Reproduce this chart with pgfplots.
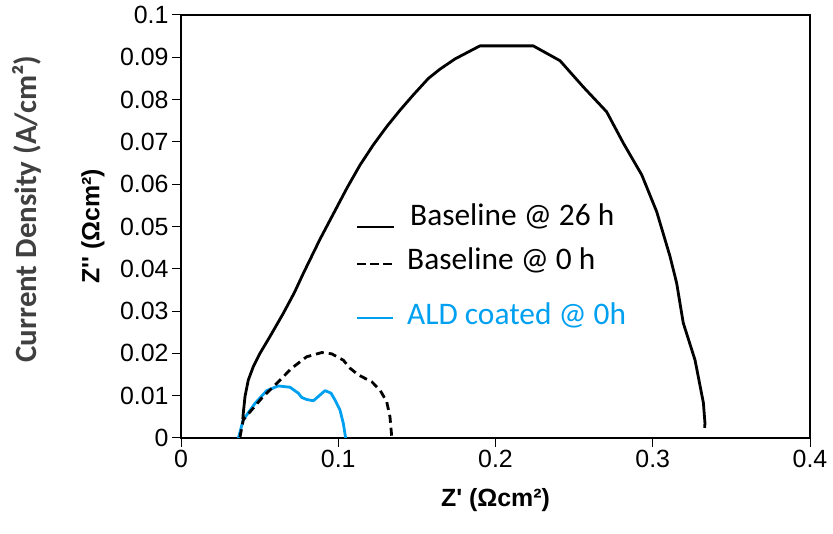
\documentclass[border=0pt]{standalone}
\usepackage{pgfplots}
\pgfplotsset{compat=1.18}
\usepackage{fontspec}
\setmainfont{Liberation Sans}[Ligatures=TeXOff]
\newfontfamily\calibri{Carlito}
\definecolor{aldblue}{RGB}{0,160,240}
\definecolor{dgray}{RGB}{64,64,64}
\begin{document}
\begin{tikzpicture}[x=1bp,y=1bp]
\begin{axis}[
  at={(181bp,96bp)}, anchor=south west,
  width=629bp, height=423bp, scale only axis,
  xmin=0, xmax=0.4, ymin=0, ymax=0.1,
  xtick={0,0.1,0.2,0.3,0.4},
  ytick={0,0.01,0.02,0.03,0.04,0.05,0.06,0.07,0.08,0.09,0.1},
  scaled ticks=false,
  tick align=outside, xtick pos=bottom, ytick pos=left,
  major tick length=9bp,
  tick style={black, line width=1bp},
  axis line style={black, line width=1.5bp},
  /pgf/number format/assume math mode=true,
  /pgf/number format/fixed,
  /pgf/number format/precision=2,
  ticklabel style={font=\fontsize{25}{30}\selectfont},
  xlabel={Z' (Ωcm²)}, ylabel={Z'' (Ωcm²)},
  label style={font=\fontsize{25}{30}\selectfont\bfseries},
  xlabel style={at={(axis description cs:0.5,-0.1466)},anchor=center},
  ylabel style={at={(axis description cs:-0.14,0.5)},anchor=center},
]
\addplot[aldblue, line width=2.8bp, line join=round] coordinates {
(0.0365,0.0000) (0.0396,0.0043) (0.0471,0.0082) (0.0545,0.0112) (0.0619,0.0123)
(0.0693,0.0120) (0.0746,0.0106) (0.0767,0.0096) (0.0799,0.0091) (0.0842,0.0088)
(0.0873,0.0098) (0.0916,0.0112) (0.0954,0.0106) (0.0979,0.0090) (0.1011,0.0066)
(0.1032,0.0035) (0.1047,0.0000)
};
\addplot[black, line width=2.8bp, line join=round, dash pattern=on 8bp off 5bp] coordinates {
(0.0375,0.0002) (0.0396,0.0043) (0.0513,0.0094) (0.0619,0.0133) (0.0704,0.0165)
(0.0799,0.0192) (0.0895,0.0202) (0.0958,0.0199) (0.1032,0.0184) (0.1075,0.0165)
(0.1128,0.0149) (0.1213,0.0133) (0.1266,0.0113) (0.1308,0.0086) (0.1329,0.0050)
(0.1340,0.0003)
};
\addplot[black, line width=2.8bp, line join=round] coordinates {
(0.0393,0.0045) (0.0396,0.0058) (0.0407,0.0098) (0.0428,0.0137) (0.0460,0.0169)
(0.0502,0.0200) (0.0566,0.0240) (0.0651,0.0295) (0.0720,0.0343) (0.0779,0.0390)
(0.0884,0.0470) (0.0969,0.0530) (0.1054,0.0590) (0.1138,0.0645) (0.1223,0.0693)
(0.1308,0.0736) (0.1393,0.0775) (0.1477,0.0811) (0.1573,0.0850) (0.1647,0.0872)
(0.1742,0.0896) (0.1901,0.0927) (0.2240,0.0927)
(0.2410,0.0892) (0.2558,0.0830) (0.2707,0.0771) (0.2813,0.0697) (0.2930,0.0622)
(0.3025,0.0535) (0.3110,0.0429) (0.3152,0.0366) (0.3194,0.0272) (0.3269,0.0184)
(0.3322,0.0083) (0.3332,0.0035) (0.3330,0.0024)
};
\end{axis}
\draw[black, line width=2.8bp] (357,307) -- (394,307);
\draw[black, line width=2.8bp, dash pattern=on 9bp off 4bp] (357,270) -- (392,270);
\draw[aldblue, line width=2.8bp] (357,216) -- (393,216);
\node[anchor=base west, inner sep=0, font=\calibri\fontsize{31.5}{36}\selectfont] at (410,308) {Baseline @ 26 h};
\node[anchor=base west, inner sep=0, font=\calibri\fontsize{31.5}{36}\selectfont] at (407,264) {Baseline @ 0 h};
\node[anchor=base west, inner sep=0, text=aldblue, font=\calibri\fontsize{31.5}{36}\selectfont] at (407,209) {ALD coated @ 0h};
\node[rotate=90, inner sep=0, text=dgray, font=\calibri\bfseries\fontsize{31}{36}\selectfont] at (27,325) {Current Density (A/cm²)};
\pgfresetboundingbox
\path[use as bounding box] (0,0) rectangle (833,534);
\end{tikzpicture}
\end{document}
